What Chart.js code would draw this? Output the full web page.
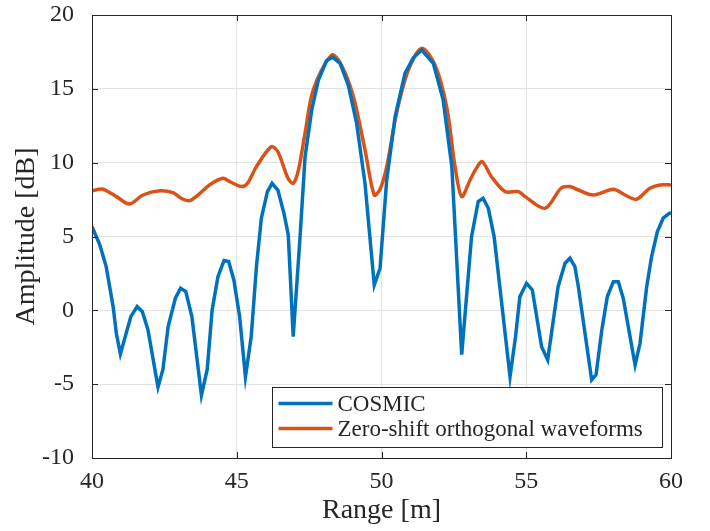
<!DOCTYPE html>
<html>
<head>
<meta charset="utf-8">
<script src="https://cdn.jsdelivr.net/npm/chart.js@4/dist/chart.umd.min.js"></script>
<style>
  html, body { margin: 0; padding: 0; background: #fff; }
  #wrap { width: 710px; height: 531px; }
</style>
</head>
<body>
<div id="wrap"><canvas id="c" width="710" height="531"></canvas></div>
<script>
// ── data ──
const cosmicX = [40.00, 40.27, 40.49, 40.73, 40.84, 40.98, 41.34, 41.56, 41.74, 41.93,
    42.28, 42.45, 42.63, 42.88, 43.06, 43.24, 43.45, 43.78, 43.98, 44.15,
    44.35, 44.56, 44.72, 44.90, 45.10, 45.30, 45.50, 45.68, 45.85, 46.06,
    46.22, 46.42, 46.63, 46.78, 46.95, 47.18, 47.36, 47.59, 47.82, 48.10,
    48.31, 48.57, 48.85, 49.14, 49.43, 49.75, 49.95, 50.18, 50.47, 50.81,
    51.10, 51.39, 51.79, 52.13, 52.43, 52.77, 53.11, 53.34, 53.51, 53.69,
    53.89, 54.44, 54.63, 54.78, 55.01, 55.21, 55.53, 55.74, 56.10, 56.34,
    56.51, 56.68, 56.80, 57.26, 57.41, 57.61, 57.80, 58.01, 58.18, 58.35,
    58.76, 58.93, 59.16, 59.33, 59.53, 59.73, 59.94, 60.00];
const cosmicY = [5.67, 4.43, 2.96, 0.25, -1.55, -2.95, -0.43, 0.25, -0.10, -1.30,
    -5.20, -4.00, -1.10, 0.82, 1.50, 1.27, -0.43, -5.75, -4.00, 0.03,
    2.28, 3.37, 3.30, 2.06, -0.43, -4.50, -1.78, 2.96, 6.24, 8.04,
    8.60, 8.15, 6.57, 5.10, -1.78, 4.77, 10.40, 13.57, 15.60, 16.90,
    17.14, 16.73, 15.26, 12.67, 8.60, 1.72, 2.85, 8.83, 13.10, 16.05,
    17.10, 17.63, 16.73, 14.25, 9.73, -3.00, 4.99, 7.36, 7.59, 6.91,
    4.99, -4.49, -1.78, 0.93, 1.83, 1.38, -2.46, -3.36, 1.60, 3.19,
    3.53, 2.96, 1.60, -4.71, -4.37, -1.33, 0.93, 1.94, 1.94, 0.82,
    -3.70, -2.23, 1.60, 3.64, 5.33, 6.24, 6.57, 6.60];

const zsowX = [40.00, 40.38, 40.84, 41.30, 41.76, 42.34, 42.80, 43.08, 43.37, 43.66,
    44.06, 44.52, 44.76, 45.16, 45.37, 45.68, 46.19, 46.42, 46.77, 46.95,
    47.13, 47.36, 47.64, 48.28, 48.62, 49.03, 49.43, 49.75, 49.95, 50.18,
    50.52, 50.93, 51.39, 51.85, 52.25, 52.54, 52.77, 53.06, 53.30, 53.48,
    53.80, 54.27, 54.73, 54.96, 55.65, 56.20, 56.51, 56.74, 57.32, 58.01,
    58.41, 58.81, 59.27, 59.62, 60.00];
const zsowY = [8.10, 8.20, 7.70, 7.20, 7.81, 8.10, 7.97, 7.59, 7.43, 7.81,
    8.49, 8.94, 8.71, 8.38, 8.60, 9.73, 11.08, 10.74, 8.94, 8.60,
    9.50, 12.00, 14.92, 17.29, 16.60, 14.47, 10.86, 7.81, 8.20, 9.73,
    13.35, 16.28, 17.74, 16.60, 13.80, 9.73, 7.70, 8.83, 9.70, 10.07,
    9.05, 8.04, 8.04, 7.70, 6.91, 8.27, 8.38, 8.20, 7.81, 8.20,
    7.81, 7.52, 8.27, 8.49, 8.49];

const xTicks = [40, 45, 50, 55, 60];
const yTicks = [-10, -5, 0, 5, 10, 15, 20];
const seriesNames = ['COSMIC', 'Zero-shift orthogonal waveforms'];
const seriesColors = ['#0072BD', '#D95319'];

const AXIS = '#262626';
const SERIF = "'Liberation Serif', 'DejaVu Serif', serif";

function toPoints(xs, ys) {
    return xs.map((x, i) => ({ x, y: ys[i] }));
}

// box, inward ticks and the legend inside the axes, like MATLAB
const boxPlugin = {
    id: 'matlabBox',
    afterDraw(chart) {
        const { ctx, chartArea: a, scales: { x, y } } = chart;
        ctx.save();
        ctx.strokeStyle = AXIS;
        ctx.lineWidth = 1;
        ctx.strokeRect(Math.round(a.left) + 0.5, Math.round(a.top) + 0.5,
            Math.round(a.width), Math.round(a.height));
        ctx.beginPath();
        xTicks.forEach(v => {
            const px = Math.round(x.getPixelForValue(v)) + 0.5;
            ctx.moveTo(px, a.bottom); ctx.lineTo(px, a.bottom - 6);
            ctx.moveTo(px, a.top); ctx.lineTo(px, a.top + 6);
        });
        yTicks.forEach(v => {
            const py = Math.round(y.getPixelForValue(v)) + 0.5;
            ctx.moveTo(a.left, py); ctx.lineTo(a.left + 6, py);
            ctx.moveTo(a.right, py); ctx.lineTo(a.right - 6, py);
        });
        ctx.stroke();

        // legend
        const w = 390, h = 60;
        const lx = Math.round(a.right - 9 - w) + 0.5;
        const ly = Math.round(a.bottom - 11 - h) + 0.5;
        ctx.fillStyle = '#fff';
        ctx.fillRect(lx, ly, w, h);
        ctx.strokeStyle = AXIS;
        ctx.lineWidth = 1;
        ctx.strokeRect(lx, ly, w, h);
        ctx.font = '23px ' + SERIF;
        ctx.textBaseline = 'middle';
        chart.data.datasets.forEach((ds, i) => {
            const cy = ly + 16 + i * 25;
            ctx.strokeStyle = ds.borderColor;
            ctx.lineWidth = 3.5;
            ctx.beginPath();
            ctx.moveTo(lx + 6, cy); ctx.lineTo(lx + 60, cy);
            ctx.stroke();
            ctx.fillStyle = AXIS;
            ctx.fillText(ds.label, lx + 65, cy + 1);
        });
        ctx.restore();
    }
};

const ctx = document.getElementById('c').getContext('2d');
new Chart(ctx, {
    type: 'line',
    data: {
        datasets: [
            {
                label: seriesNames[0],
                data: toPoints(cosmicX, cosmicY),
                borderColor: seriesColors[0],
                borderWidth: 3.5, pointRadius: 0, tension: 0
            },
            {
                label: seriesNames[1],
                data: toPoints(zsowX, zsowY),
                borderColor: seriesColors[1],
                borderWidth: 3.5, pointRadius: 0, tension: 0.3
            }
        ]
    },
    options: {
        responsive: false,
        animation: false,
        layout: { padding: { left: 0, top: 15, right: 39, bottom: 0 } },
        plugins: { legend: { display: false }, tooltip: { enabled: false } },
        scales: {
            x: {
                type: 'linear', min: 40, max: 60,
                afterBuildTicks: s => { s.ticks = xTicks.map(v => ({ value: v })); },
                afterFit: s => { s.height = 73; s.paddingLeft = 0; s.paddingRight = 0; },
                grid: { color: '#e3e3e3', drawTicks: false },
                border: { display: false },
                ticks: { color: AXIS, padding: 9, font: { family: SERIF, size: 24 } },
                title: { display: true, text: 'Range [m]', color: AXIS, padding: { top: 2 },
                    font: { family: SERIF, size: 28 } }
            },
            y: {
                min: -10, max: 20,
                afterBuildTicks: s => { s.ticks = yTicks.map(v => ({ value: v })); },
                afterFit: s => { s.width = 92; s.paddingTop = 0; s.paddingBottom = 0; },
                grid: { color: '#e3e3e3', drawTicks: false },
                border: { display: false },
                ticks: { color: AXIS, padding: 18, font: { family: SERIF, size: 24 } },
                title: { display: true, text: 'Amplitude [dB]', color: AXIS, padding: { top: 10, bottom: 0 },
                    font: { family: SERIF, size: 28 } }
            }
        }
    },
    plugins: [boxPlugin]
});
</script>
</body>
</html>
